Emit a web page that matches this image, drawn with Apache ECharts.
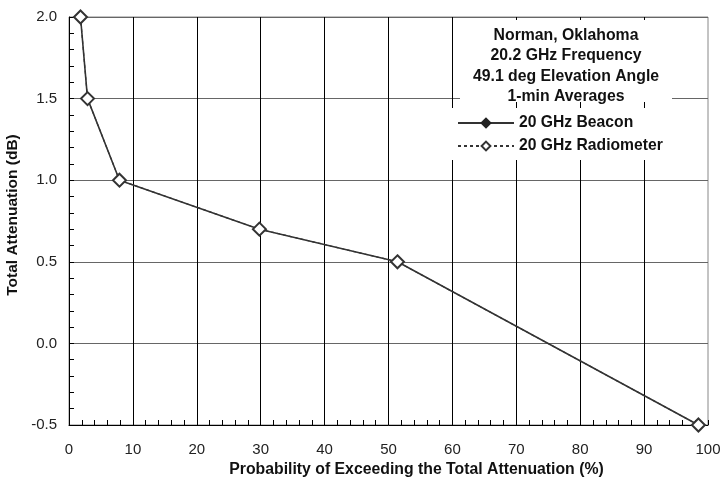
<!DOCTYPE html>
<html>
<head>
<meta charset="utf-8">
<script src="https://cdn.jsdelivr.net/npm/echarts@6/dist/echarts.min.js"></script>
<style>html,body{margin:0;padding:0;background:#fff}#c{width:723px;height:485px}</style>
</head>
<body>
<div id="c"></div>
<script>
const titleLines = ['Norman, Oklahoma', '20.2 GHz Frequency', '49.1 deg Elevation Angle', '1-min Averages'];
const seriesNames = ['20 GHz Beacon', '20 GHz Radiometer'];
const beaconProb = [1.8, 2.9, 7.9, 29.8, 51.4, 98.5];
const beaconAtten = [2.0, 1.5, 1.0, 0.7, 0.5, -0.5];
const radiometerProb = [1.8, 2.9, 7.9, 29.8, 51.4, 98.5];
const radiometerAtten = [2.0, 1.5, 1.0, 0.7, 0.5, -0.5];
const xAxisTitle = 'Probability of Exceeding the Total Attenuation (%)';
const yAxisTitle = 'Total Attenuation (dB)';

const font = 'Liberation Sans, Arial, sans-serif';
const chart = echarts.init(document.getElementById('c'), null, {renderer: 'canvas'});
chart.setOption({
  animation: false,
  backgroundColor: '#fff',
  grid: {left: 69, right: 15, top: 17, bottom: 60, show: true, borderColor: '#888', borderWidth: 1,
         backgroundColor: 'transparent', containLabel: false, outerBoundsMode: 'none'},
  graphic: [
    {type: 'rect', silent: true, z: 5, shape: {x: 460, y: 20, width: 212, height: 82}, style: {fill: '#fff'}},
    {type: 'text', silent: true, z: 6, x: 566, y: 25.5,
     style: {text: titleLines.join('\n'), font: 'bold 15.8px Liberation Sans, Arial, sans-serif', fill: '#111',
             textAlign: 'center', align: 'center', lineHeight: 20.3}}
  ],
  legend: {
    left: 445, top: 108,
    orient: 'vertical',
    z: 10,
    backgroundColor: '#fff',
    padding: [7, 12, 6, 12],
    itemWidth: 56, itemHeight: 11, itemGap: 7,
    textStyle: {fontFamily: font, fontSize: 15.7, fontWeight: 'bold', color: '#111', lineHeight: 16},
    data: seriesNames
  },
  xAxis: {
    type: 'value', min: 0, max: 100, interval: 10,
    name: xAxisTitle, nameLocation: 'middle', nameGap: 35,
    nameTextStyle: {fontFamily: font, fontSize: 15.8, fontWeight: 'bold', color: '#111', padding: [0, 0, 0, 56]},
    axisLine: {show: true, onZero: false, lineStyle: {color: '#000', width: 1}},
    axisTick: {show: true, inside: true, length: 5, lineStyle: {color: '#000'}},
    minorTick: {show: true, splitNumber: 5, length: 5, lineStyle: {color: '#000'}},
    axisLabel: {fontFamily: font, fontSize: 15, color: '#222', margin: 17},
    splitLine: {show: true, showMaxLine: false, lineStyle: {color: '#000', width: 1}}
  },
  yAxis: {
    type: 'value', min: -0.5, max: 2.0, interval: 0.5,
    name: yAxisTitle, nameLocation: 'middle', nameGap: 47,
    nameTextStyle: {fontFamily: font, fontSize: 15.5, fontWeight: 'bold', color: '#111', padding: [0, 0, 0, 12]},
    axisLine: {show: true, onZero: false, lineStyle: {color: '#000', width: 1}},
    axisTick: {show: true, inside: true, length: 5, lineStyle: {color: '#000'}},
    minorTick: {show: true, splitNumber: 5, length: 5, lineStyle: {color: '#000'}},
    axisLabel: {fontFamily: font, fontSize: 15, color: '#222', margin: 12, formatter: v => v.toFixed(1)},
    splitLine: {show: true, lineStyle: {color: '#666', width: 1}}
  },
  series: [
    {
      name: seriesNames[0], type: 'line',
      data: beaconProb.map((x, i) => [x, beaconAtten[i]]),
      symbol: 'diamond', symbolSize: 12,
      lineStyle: {color: '#333', width: 1.6, type: 'solid'},
      itemStyle: {color: '#222', borderColor: '#222', borderWidth: 1},
      z: 3
    },
    {
      name: seriesNames[1], type: 'line',
      data: radiometerProb.map((x, i) => [x, radiometerAtten[i]]),
      symbol: 'diamond', symbolSize: 13,
      lineStyle: {color: '#333', width: 1.2, type: [3, 3]},
      itemStyle: {color: '#fff', borderColor: '#333', borderWidth: 2},
      z: 4
    }
  ]
});
</script>
</body>
</html>
